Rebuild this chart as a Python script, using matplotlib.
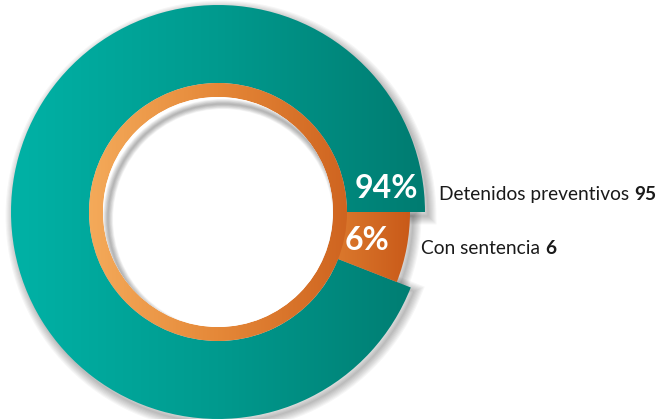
#!/usr/bin/env python3
"""
Donut chart: detenidos preventivos vs con sentencia.
"""

import matplotlib
matplotlib.use("Agg")
import matplotlib.pyplot as plt
import numpy as np
from matplotlib.patches import Wedge, Circle
from matplotlib.colors import LinearSegmentedColormap

# Data
categories = ["Detenidos preventivos", "Con sentencia"]
counts = [95, 6]

# Styling
plt.rcParams['font.family'] = ['Lato', 'DejaVu Sans']
W, H = 659, 419
CX, CY = 218, 207          # ring centre (pixels, y up)
R_OUT = 207                # teal outer radius
R_MID = 129                # teal inner / orange ring outer
R_HOLE = 115               # white hole
R_SMALL = 192              # outer radius of the small slice

teal_cmap = LinearSegmentedColormap.from_list("teal", ["#00b2a6", "#009a8e", "#007c71"])
ring_cmap = LinearSegmentedColormap.from_list("ring", ["#f4aa5a", "#e58838", "#cf6420"])
slice_cmap = LinearSegmentedColormap.from_list("slice", ["#dc7a2e", "#c95a19"])


def gradient_fill(ax, patch, cmap, x0, x1):
    """Fill a patch with a horizontal gradient between x0 and x1."""
    grad = np.linspace(0, 1, 256).reshape(1, -1)
    im = ax.imshow(grad, cmap=cmap, extent=(x0, x1, 0, H), aspect='auto',
                   zorder=patch.get_zorder(), interpolation='bilinear')
    im.set_clip_path(patch)


def soft_shadow(ax, center, r, theta1, theta2, width, dx=3, dy=-4, zorder=0,
                clip=None, spread=1.6, alpha=0.035):
    for i in range(8):
        s = Wedge((center[0] + dx, center[1] + dy), r, theta1, theta2, width=width,
                  facecolor='none', edgecolor='black', linewidth=1 + spread * i,
                  alpha=alpha, zorder=zorder)
        ax.add_patch(s)
        if clip is not None:
            s.set_clip_path(clip)


fig = plt.figure(figsize=(W / 100, H / 100), dpi=100)
ax = fig.add_axes([0, 0, 1, 1])

total = sum(counts)
wedges, _ = ax.pie(counts, radius=R_OUT, center=(CX, CY), startangle=0,
                   counterclock=True, wedgeprops=dict(width=R_OUT - R_MID, linewidth=0))
big, small = wedges
small.set_radius(R_SMALL)
small.set_width(R_SMALL - R_HOLE)

ax.set_aspect('equal')
ax.set_xlim(0, W)
ax.set_ylim(0, H)
ax.axis('off')

# shadows under the ring
soft_shadow(ax, (CX, CY), R_OUT, big.theta1, big.theta2, R_OUT - R_MID, zorder=0.5)
soft_shadow(ax, (CX, CY), R_SMALL, small.theta1, small.theta2, R_SMALL - R_HOLE, zorder=0.5)

for w in wedges:
    w.set_facecolor('none')
    w.set_zorder(2)

gradient_fill(ax, big, teal_cmap, CX - R_OUT, CX + R_OUT)
gradient_fill(ax, small, slice_cmap, CX + R_HOLE, CX + R_SMALL)

# inner orange ring
ring = Wedge((CX, CY), R_MID, 0, 360, width=R_MID - R_HOLE, facecolor='none',
             linewidth=0, zorder=3)
ax.add_patch(ring)
gradient_fill(ax, ring, ring_cmap, CX - R_MID, CX + R_MID)

# white hole with the ring's shadow falling into it (upper-left side)
hole = Circle((CX, CY), R_HOLE, facecolor='white', linewidth=0, zorder=4)
ax.add_patch(hole)
soft_shadow(ax, (CX, CY), R_HOLE + 30, 0, 360, 30, dx=5, dy=-7, zorder=4.5,
            clip=hole, spread=0.9, alpha=0.04)

# percentage labels inside the slices
pct = [f"{round(c / total * 100)}%" for c in counts]
ang_big = np.deg2rad(big.theta1 + 8)
ax.text(CX + 170 * np.cos(ang_big), CY + 170 * np.sin(ang_big), pct[0],
        color='white', fontsize=23, fontweight='bold', ha='center', va='center', zorder=6)
ang_small = np.deg2rad((small.theta1 + small.theta2) / 2 - 360)
ax.text(CX + 152 * np.cos(ang_small), CY + 152 * np.sin(ang_small), pct[1],
        color='white', fontsize=23, fontweight='bold', ha='center', va='center', zorder=6)

# category labels with bold counts
renderer = fig.canvas.get_renderer()
label_pos = [(439, 419 - 200), (421, 419 - 254)]
for name, n, (x, y) in zip(categories, counts, label_pos):
    t = ax.text(x, y, name + " ", fontsize=13.8, color='#1a1a1a', ha='left', va='baseline')
    x1 = t.get_window_extent(renderer).x1
    ax.text(x1, y, str(n), fontsize=13.8, fontweight='bold', color='#1a1a1a',
            ha='left', va='baseline')

plt.savefig("out.png", dpi=100)
